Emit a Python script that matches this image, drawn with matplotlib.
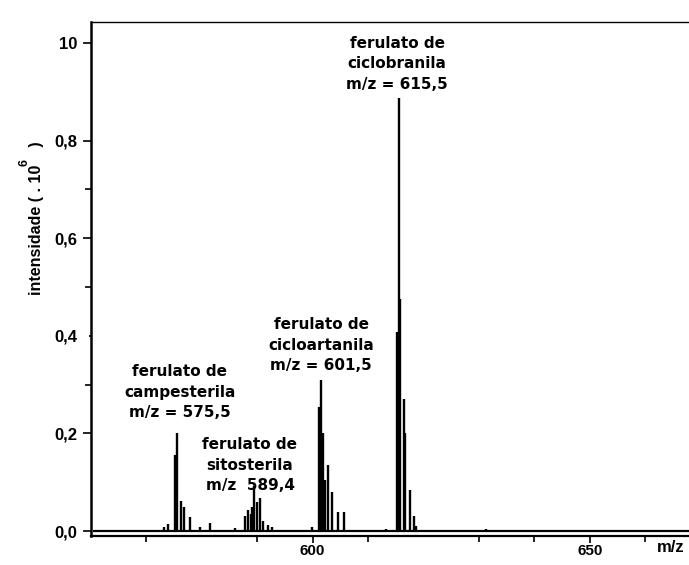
import matplotlib
matplotlib.use("Agg")
import matplotlib.pyplot as plt

# Mass spectrum of ferulate esters (intensity in units of 10^6)
mz = [573.2, 573.9, 575.2, 575.5, 576.3, 576.7, 577.9, 579.6, 581.4, 585.9,
      587.8, 588.3, 588.8, 589.1, 589.4, 589.9, 590.5, 591.0, 592.0, 592.6,
      599.8, 601.2, 601.5, 601.8, 602.3, 602.7, 603.4, 604.5, 605.6,
      613.3, 615.2, 615.5, 615.8, 616.4, 616.7, 617.5, 618.2, 618.6, 631.3]
intensity = [0.008, 0.014, 0.155, 0.200, 0.062, 0.050, 0.028, 0.008, 0.016, 0.006,
             0.030, 0.043, 0.035, 0.050, 0.092, 0.060, 0.067, 0.020, 0.012, 0.008,
             0.008, 0.255, 0.310, 0.200, 0.105, 0.135, 0.080, 0.040, 0.040,
             0.005, 0.408, 0.888, 0.476, 0.270, 0.200, 0.085, 0.030, 0.010, 0.004]

y_ticks = [0.0, 0.2, 0.4, 0.6, 0.8, 1.0]
y_tick_labels = ["0,0", "0,2", "0,4", "0,6", "0,8", "10"]
y_minor = [0.3, 0.5, 0.7]
x_ticks = [600, 650]
x_tick_labels = ["600", "650"]
x_minor = [570, 590, 610, 630, 640, 660]

annotations = [
    ("ferulato de\nciclobranila\nm/z = 615,5", 397, 64),
    ("ferulato de\ncicloartanila\nm/z = 601,5", 321, 345),
    ("ferulato de\ncampesterila\nm/z = 575,5", 180, 392),
    ("ferulato de\nsitosterila\nm/z  589,4", 250, 465),
]

W, H = 689, 565
fig = plt.figure(figsize=(W / 100, H / 100), dpi=100)
ax = fig.add_axes([91 / W, (H - 536) / H, 1 - 91 / W, (536 - 22) / H])

ax.vlines(mz, 0, intensity, color="black", linewidth=1.7)
ax.hlines(0, 560.3, 668, color="black", linewidth=1.6)

ax.set_xlim(560, 667.9)
ax.set_ylim(-0.0102, 1.043)

ax.spines["right"].set_visible(False)
ax.spines["left"].set_linewidth(1.8)
ax.spines["bottom"].set_linewidth(1.6)
ax.spines["top"].set_linewidth(1.0)

tick_font = dict(family=["Liberation Sans", "DejaVu Sans"], weight="bold", size=12)
xtick_font = dict(family=["Liberation Sans", "DejaVu Sans"], weight="bold", size=11)
ax.set_yticks(y_ticks)
ax.set_yticklabels(y_tick_labels, **tick_font)
ax.set_yticks(y_minor, minor=True)
ax.set_xticks(x_ticks)
ax.set_xticklabels(x_tick_labels, **xtick_font)
ax.set_xticks(x_minor, minor=True)
ax.tick_params(axis="y", which="major", direction="out", length=6, width=1.2, pad=4)
ax.tick_params(axis="x", which="major", direction="out", length=5, width=1.2, pad=1)
ax.tick_params(axis="both", which="minor", direction="out", length=4, width=1.2)
ax.yaxis.get_major_ticks()[2].tick1line.set_markersize(1.5)

label_font = dict(family=["Liberation Sans Narrow", "Liberation Sans", "DejaVu Sans"],
                  weight="bold", size=11.5)
fig.text(37 / W, 1 - 218 / H, "intensidade ( . 10    )", rotation=90,
         ha="center", va="center", **label_font)
fig.text(25 / W, 1 - 163 / H, "6", rotation=90, ha="center", va="center",
         family=["Liberation Sans Narrow", "Liberation Sans", "DejaVu Sans"],
         weight="bold", size=9)

fig.text(657 / W, 1 - 548 / H, "m/z", ha="left", va="center", **tick_font)

for text, cx, cy in annotations:
    fig.text(cx / W, 1 - cy / H, text, ha="center", va="center",
             multialignment="center", linespacing=1.45,
             family="DejaVu Sans", weight="bold", size=11)

fig.savefig("out.png", dpi=100)
